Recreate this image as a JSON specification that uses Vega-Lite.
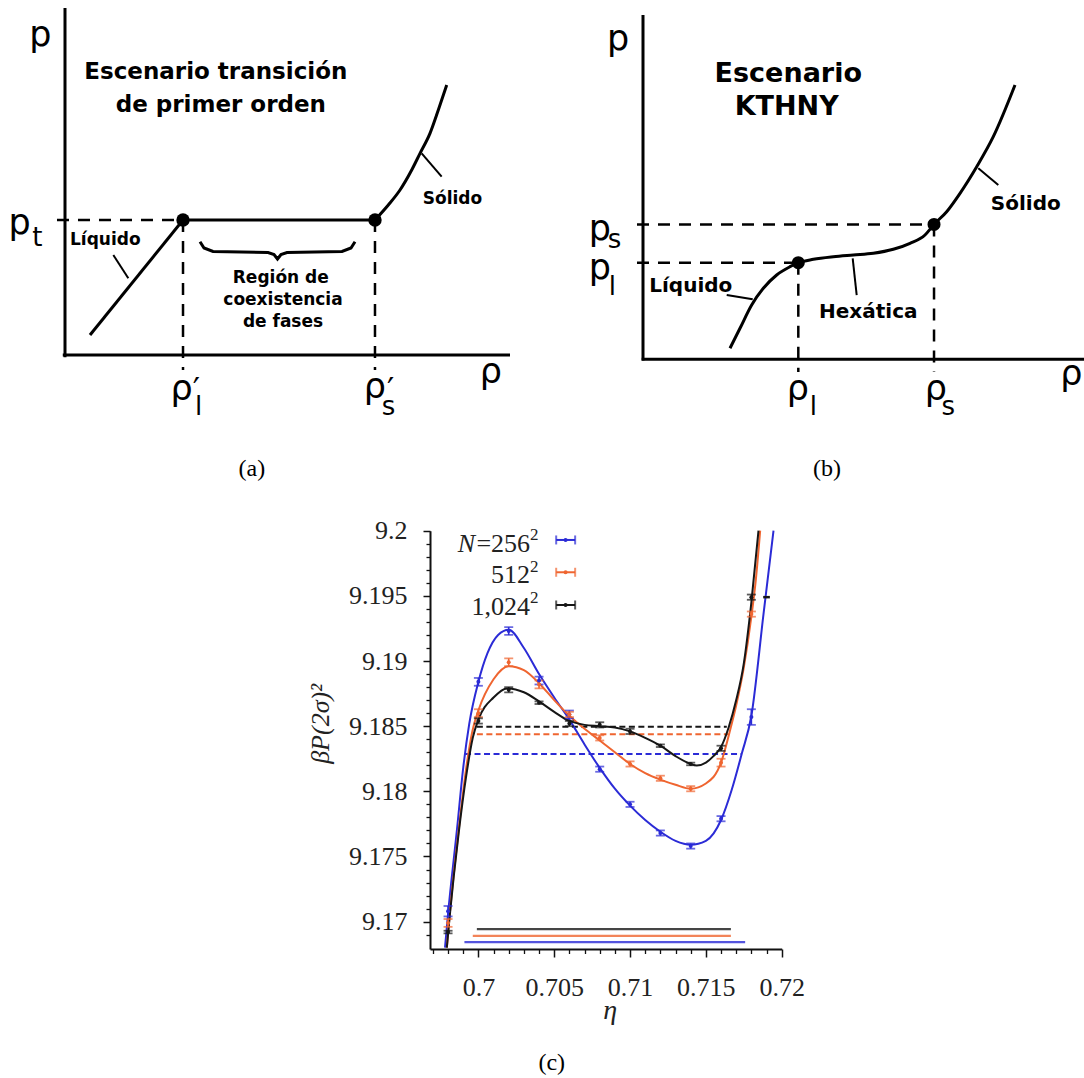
{
"$schema":"https://vega.github.io/schema/vega-lite/v6.json",
"width":1084,"height":1078,"padding":0,"autosize":{"type":"none"},
"background":"#ffffff",
"config":{"view":{"stroke":null}},
"datasets":{
"a_axes":[{"x":-0.05,"y":0,"x2":10,"y2":0},{"x":0,"y":-0.05,"x2":0,"y2":8}],
"a_dash":[{"x":-0.18,"y":3.112,"x2":2.652,"y2":3.112},{"x":2.652,"y":3.112,"x2":2.652,"y2":-0.346},{"x":6.966,"y":3.112,"x2":6.966,"y2":-0.346}],
"a_lin":[{"g":"liq","o":1,"x":0.562,"y":0.461},{"g":"liq","o":2,"x":2.652,"y":3.112},
{"g":"flat","o":1,"x":2.652,"y":3.112},{"g":"flat","o":2,"x":6.966,"y":3.112},
{"g":"brace","o":1,"x":3.034,"y":2.612},{"g":"brace","o":2,"x":3.124,"y":2.467},{"g":"brace","o":3,"x":3.326,"y":2.386},{"g":"brace","o":4,"x":4.562,"y":2.363},{"g":"brace","o":5,"x":4.697,"y":2.317},{"g":"brace","o":6,"x":4.775,"y":2.213},{"g":"brace","o":7,"x":4.854,"y":2.317},{"g":"brace","o":8,"x":4.989,"y":2.363},{"g":"brace","o":9,"x":6.225,"y":2.386},{"g":"brace","o":10,"x":6.427,"y":2.467},{"g":"brace","o":11,"x":6.517,"y":2.612}],
"a_ptr":[{"g":"p1","o":1,"x":1.086,"y":2.305},{"g":"p1","o":2,"x":1.423,"y":1.768},{"g":"p2","o":1,"x":8.464,"y":4.111},{"g":"p2","o":2,"x":8.015,"y":4.65}],
"a_sol":[{"x":6.966,"y":3.112},{"x":7.265,"y":3.458},{"x":7.528,"y":3.804},{"x":7.791,"y":4.265},{"x":7.978,"y":4.65},{"x":8.202,"y":5.111},{"x":8.389,"y":5.648},{"x":8.578,"y":6.225}],
"a_dots":[{"x":2.652,"y":3.112},{"x":6.966,"y":3.112}],
"a_bold":[{"x":0.906,"y":2.536,"t":"Líquido"},{"x":8.708,"y":3.481,"t":"Sólido"},{"x":4.849,"y":1.66,"t":"Región de"},{"x":4.899,"y":1.153,"t":"coexistencia"},{"x":4.899,"y":0.652,"t":"de fases"}],
"a_title":[{"x":3.389,"y":6.356,"t":"Escenario transición"},{"x":3.501,"y":5.609,"t":"de primer orden"}],
"a_sym":[{"x":-0.551,"y":7.135,"t":"p"},{"x":9.569,"y":-0.646,"t":"ρ"},{"x":-1.02,"y":2.797,"t":"p"},{"x":2.62,"y":-1.033,"t":"ρ"},{"x":6.964,"y":-0.994,"t":"ρ"}],
"a_sub":[{"x":-0.62,"y":2.513,"t":"t"},{"x":3.0,"y":-1.383,"t":"l"},{"x":7.27,"y":-1.383,"t":"s"}],
"a_prime":[{"x":2.95,"y":-1.03,"t":"′"},{"x":7.32,"y":-1.03,"t":"′"}],
"a_cap":[{"x":4.2,"y":-2.79,"t":"(a)"}],
"b_axes":[{"x":0,"y":-0.03,"x2":0,"y2":7.94},{"x":-0.03,"y":0,"x2":10,"y2":0}],
"b_dash":[{"x":-0.135,"y":3.11,"x2":6.54,"y2":3.11},{"x":-0.135,"y":2.227,"x2":3.49,"y2":2.227},{"x":3.49,"y":2.227,"x2":3.49,"y2":-0.293},{"x":6.54,"y":3.11,"x2":6.54,"y2":-0.293}],
"b_curve":[{"x":1.955,"y":0.254},{"x":2.18,"y":0.715},{"x":2.442,"y":1.252},{"x":2.704,"y":1.637},{"x":3.004,"y":1.944},{"x":3.303,"y":2.135},{"x":3.49,"y":2.227},{"x":3.828,"y":2.305},{"x":4.277,"y":2.365},{"x":4.726,"y":2.405},{"x":5.176,"y":2.444},{"x":5.625,"y":2.536},{"x":6.0,"y":2.674},{"x":6.337,"y":2.866},{"x":6.54,"y":3.11},{"x":6.824,"y":3.403},{"x":7.124,"y":3.827},{"x":7.499,"y":4.44},{"x":7.872,"y":5.132},{"x":8.36,"y":6.324}],
"b_ptr":[{"g":"p1","o":1,"x":1.881,"y":1.482},{"g":"p1","o":2,"x":2.465,"y":1.383},{"g":"p2","o":1,"x":4.712,"y":2.328},{"g":"p2","o":2,"x":4.802,"y":1.482},{"g":"p3","o":1,"x":7.535,"y":4.403},{"g":"p3","o":2,"x":7.984,"y":4.018}],
"b_dots":[{"x":3.49,"y":2.227},{"x":6.54,"y":3.11}],
"b_bold":[{"x":1.074,"y":1.559,"t":"Líquido"},{"x":5.063,"y":0.952,"t":"Hexática"},{"x":8.602,"y":3.442,"t":"Sólido"}],
"b_title":[{"x":3.265,"y":6.4,"t":"Escenario"},{"x":3.229,"y":5.632,"t":"KTHNY"}],
"b_sym":[{"x":-0.562,"y":7.122,"t":"p"},{"x":9.625,"y":-0.588,"t":"ρ"},{"x":-0.97,"y":2.741,"t":"p"},{"x":-0.97,"y":1.858,"t":"p"},{"x":3.48,"y":-0.934,"t":"ρ"},{"x":6.58,"y":-0.934,"t":"ρ"}],
"b_sub":[{"x":-0.64,"y":2.559,"t":"s"},{"x":-0.69,"y":1.482,"t":"l"},{"x":3.83,"y":-1.284,"t":"l"},{"x":6.86,"y":-1.284,"t":"s"}],
"b_cap":[{"x":4.135,"y":-2.69,"t":"(b)"}],
"c_pts":[
{"s":"256","x":0.698,"y":9.1708,"lo":9.1704,"hi":9.1712},
{"s":"256","x":0.7,"y":9.1884,"lo":9.1881,"hi":9.1887},
{"s":"256","x":0.702,"y":9.1923,"lo":9.192,"hi":9.1926},
{"s":"256","x":0.704,"y":9.1885,"lo":9.1882,"hi":9.1888},
{"s":"256","x":0.706,"y":9.1859,"lo":9.1856,"hi":9.1862},
{"s":"256","x":0.708,"y":9.1817,"lo":9.1815,"hi":9.1819},
{"s":"256","x":0.71,"y":9.179,"lo":9.1788,"hi":9.1792},
{"s":"256","x":0.712,"y":9.1768,"lo":9.1766,"hi":9.177},
{"s":"256","x":0.714,"y":9.1758,"lo":9.1756,"hi":9.176},
{"s":"256","x":0.716,"y":9.1779,"lo":9.1777,"hi":9.1781},
{"s":"256","x":0.718,"y":9.1857,"lo":9.1851,"hi":9.1863},
{"s":"512","x":0.698,"y":9.1699,"lo":9.1696,"hi":9.1702},
{"s":"512","x":0.7,"y":9.186,"lo":9.1857,"hi":9.1863},
{"s":"512","x":0.702,"y":9.1899,"lo":9.1896,"hi":9.1902},
{"s":"512","x":0.704,"y":9.1882,"lo":9.1879,"hi":9.1885},
{"s":"512","x":0.706,"y":9.1859,"lo":9.1857,"hi":9.1861},
{"s":"512","x":0.708,"y":9.1841,"lo":9.1839,"hi":9.1843},
{"s":"512","x":0.71,"y":9.1821,"lo":9.1819,"hi":9.1823},
{"s":"512","x":0.712,"y":9.181,"lo":9.1808,"hi":9.1812},
{"s":"512","x":0.714,"y":9.1802,"lo":9.18,"hi":9.1804},
{"s":"512","x":0.716,"y":9.1822,"lo":9.1819,"hi":9.1825},
{"s":"512","x":0.718,"y":9.1936,"lo":9.1934,"hi":9.1938},
{"s":"1024","x":0.698,"y":9.1692,"lo":9.1691,"hi":9.1693},
{"s":"1024","x":0.7,"y":9.1854,"lo":9.1852,"hi":9.1856},
{"s":"1024","x":0.702,"y":9.1878,"lo":9.1876,"hi":9.188},
{"s":"1024","x":0.704,"y":9.1868,"lo":9.1867,"hi":9.1869},
{"s":"1024","x":0.706,"y":9.1852,"lo":9.185,"hi":9.1854},
{"s":"1024","x":0.708,"y":9.1851,"lo":9.1849,"hi":9.1853},
{"s":"1024","x":0.71,"y":9.1846,"lo":9.1844,"hi":9.1848},
{"s":"1024","x":0.712,"y":9.1835,"lo":9.1834,"hi":9.1836},
{"s":"1024","x":0.714,"y":9.1821,"lo":9.182,"hi":9.1822},
{"s":"1024","x":0.716,"y":9.1833,"lo":9.1831,"hi":9.1835},
{"s":"1024","x":0.718,"y":9.1949,"lo":9.1947,"hi":9.1951}],
"c_curve":[
{"s":"256","x":0.6978,"y":9.168},{"s":"256","x":0.698,"y":9.1706},{"s":"256","x":0.6986,"y":9.1772},{"s":"256","x":0.699,"y":9.1818},{"s":"256","x":0.6994,"y":9.1852},{"s":"256","x":0.7,"y":9.1884},{"s":"256","x":0.7006,"y":9.1906},{"s":"256","x":0.7013,"y":9.192},{"s":"256","x":0.702,"y":9.1924},{"s":"256","x":0.703,"y":9.191},{"s":"256","x":0.704,"y":9.189},{"s":"256","x":0.705,"y":9.1872},{"s":"256","x":0.706,"y":9.1855},{"s":"256","x":0.707,"y":9.1836},{"s":"256","x":0.708,"y":9.1818},{"s":"256","x":0.709,"y":9.1802},{"s":"256","x":0.71,"y":9.1789},{"s":"256","x":0.711,"y":9.1778},{"s":"256","x":0.712,"y":9.1769},{"s":"256","x":0.713,"y":9.1762},{"s":"256","x":0.714,"y":9.1759},{"s":"256","x":0.715,"y":9.1762},{"s":"256","x":0.716,"y":9.1778},{"s":"256","x":0.7167,"y":9.1801},{"s":"256","x":0.71737,"y":9.1829},{"s":"256","x":0.718,"y":9.1858},{"s":"256","x":0.7188,"y":9.1936},{"s":"256","x":0.71946,"y":9.2},
{"s":"512","x":0.69792,"y":9.168},{"s":"512","x":0.6981,"y":9.1704},{"s":"512","x":0.6987,"y":9.177},{"s":"512","x":0.6992,"y":9.1818},{"s":"512","x":0.6996,"y":9.1846},{"s":"512","x":0.7,"y":9.1862},{"s":"512","x":0.701,"y":9.1886},{"s":"512","x":0.702,"y":9.1896},{"s":"512","x":0.703,"y":9.1893},{"s":"512","x":0.704,"y":9.1883},{"s":"512","x":0.705,"y":9.187},{"s":"512","x":0.706,"y":9.1858},{"s":"512","x":0.707,"y":9.1848},{"s":"512","x":0.708,"y":9.1839},{"s":"512","x":0.709,"y":9.183},{"s":"512","x":0.71,"y":9.1821},{"s":"512","x":0.711,"y":9.1814},{"s":"512","x":0.712,"y":9.1809},{"s":"512","x":0.713,"y":9.1805},{"s":"512","x":0.714,"y":9.1802},{"s":"512","x":0.715,"y":9.1806},{"s":"512","x":0.716,"y":9.1822},{"s":"512","x":0.7166,"y":9.1847},{"s":"512","x":0.717,"y":9.1866},{"s":"512","x":0.7175,"y":9.1895},{"s":"512","x":0.718,"y":9.1934},{"s":"512","x":0.7183,"y":9.1963},{"s":"512","x":0.71858,"y":9.2},
{"s":"1024","x":0.69792,"y":9.168},{"s":"1024","x":0.6981,"y":9.1703},{"s":"1024","x":0.6987,"y":9.1768},{"s":"1024","x":0.6992,"y":9.1812},{"s":"1024","x":0.69963,"y":9.1841},{"s":"1024","x":0.7,"y":9.1855},{"s":"1024","x":0.701,"y":9.1872},{"s":"1024","x":0.7019,"y":9.1879},{"s":"1024","x":0.703,"y":9.1876},{"s":"1024","x":0.704,"y":9.1869},{"s":"1024","x":0.705,"y":9.1861},{"s":"1024","x":0.706,"y":9.1854},{"s":"1024","x":0.707,"y":9.1851},{"s":"1024","x":0.708,"y":9.185},{"s":"1024","x":0.709,"y":9.1849},{"s":"1024","x":0.71,"y":9.1846},{"s":"1024","x":0.711,"y":9.1841},{"s":"1024","x":0.712,"y":9.1835},{"s":"1024","x":0.713,"y":9.1827},{"s":"1024","x":0.714,"y":9.1821},{"s":"1024","x":0.7144,"y":9.18198},{"s":"1024","x":0.715,"y":9.1822},{"s":"1024","x":0.7155,"y":9.1827},{"s":"1024","x":0.716,"y":9.1834},{"s":"1024","x":0.7165,"y":9.1849},{"s":"1024","x":0.717,"y":9.187},{"s":"1024","x":0.7175,"y":9.1898},{"s":"1024","x":0.718,"y":9.1945},{"s":"1024","x":0.71847,"y":9.2}],
"c_dash":[{"s":"1024","x":0.6999,"x2":0.71638,"y":9.18496},{"s":"512","x":0.6999,"x2":0.71649,"y":9.18438},{"s":"256","x":0.69912,"x2":0.71737,"y":9.18287}],
"c_bottom":[{"s":"1024","x":0.6999,"x2":0.71665,"y":9.16942},{"s":"512","x":0.69963,"x2":0.71665,"y":9.1689},{"s":"256","x":0.69908,"x2":0.71759,"y":9.16842}],
"c_leg":[{"s":"256","x":0.70513,"x2":0.70638,"xm":0.70575,"y":9.19929},{"s":"512","x":0.70513,"x2":0.70638,"xm":0.70575,"y":9.19681},{"s":"1024","x":0.70513,"x2":0.70638,"xm":0.70575,"y":9.1943}],
"c_extra":[{"x":0.71878,"x2":0.71922,"y":9.1949}],
"c_legtxt":[{"x":0.70341,"y":9.19839,"t":"=256"},{"x":0.70341,"y":9.19599,"t":"512"},{"x":0.70341,"y":9.19353,"t":"1,024"}],
"c_N":[{"x":0.69978,"y":9.19839,"t":"N"}],
"c_sup":[{"x":0.70341,"y":9.19929,"t":"2"},{"x":0.70341,"y":9.19685,"t":"2"},{"x":0.70341,"y":9.19443,"t":"2"}],
"c_ytitle":[{"x":0.69015,"y":9.18517,"t":"βP(2σ)²"}],
"c_eta":[{"x":0.70869,"y":9.16254,"t":"η"}],
"c_cap":[{"x":0.70484,"y":9.15862,"t":"(c)"}]
},
"layer":[
{
"encoding":{
"x":{"field":"x","type":"quantitative","scale":{"domain":[0,10],"range":[65,510],"nice":false,"zero":false},"axis":null},
"y":{"field":"y","type":"quantitative","scale":{"domain":[0,8],"range":[355,8],"nice":false,"zero":false},"axis":null}},
"layer":[
{"data":{"name":"a_axes"},"mark":{"type":"rule","strokeWidth":3,"color":"#000000"},"encoding":{"x2":{"field":"x2"},"y2":{"field":"y2"}}},
{"data":{"name":"a_dash"},"mark":{"type":"rule","strokeWidth":2.5,"color":"#000000","strokeDash":[12,9]},"encoding":{"x2":{"field":"x2"},"y2":{"field":"y2"}}},
{"data":{"name":"a_lin"},"mark":{"type":"line","strokeWidth":3,"color":"#000000"},"encoding":{"detail":{"field":"g","type":"nominal"},"order":{"field":"o","type":"quantitative"}}},
{"data":{"name":"a_ptr"},"mark":{"type":"line","strokeWidth":2,"color":"#000000"},"encoding":{"detail":{"field":"g","type":"nominal"},"order":{"field":"o","type":"quantitative"}}},
{"data":{"name":"a_sol"},"mark":{"type":"line","strokeWidth":3,"color":"#000000","interpolate":"monotone"},"encoding":{}},
{"data":{"name":"a_dots"},"mark":{"type":"point","filled":true,"size":180,"color":"#000000","opacity":1}},
{"data":{"name":"a_bold"},"mark":{"type":"text","font":"DejaVu Sans","fontWeight":"bold","fontSize":17,"align":"center","baseline":"alphabetic","color":"#000000"},"encoding":{"text":{"field":"t"}}},
{"data":{"name":"a_title"},"mark":{"type":"text","font":"DejaVu Sans","fontWeight":"bold","fontSize":23,"align":"center","baseline":"alphabetic","color":"#000000"},"encoding":{"text":{"field":"t"}}},
{"data":{"name":"a_sym"},"mark":{"type":"text","font":"DejaVu Sans","fontSize":35,"align":"center","baseline":"alphabetic","color":"#000000"},"encoding":{"text":{"field":"t"}}},
{"data":{"name":"a_sub"},"mark":{"type":"text","font":"DejaVu Sans","fontSize":26,"align":"center","baseline":"alphabetic","color":"#000000"},"encoding":{"text":{"field":"t"}}},
{"data":{"name":"a_prime"},"mark":{"type":"text","font":"DejaVu Sans","fontSize":32,"align":"center","baseline":"alphabetic","color":"#000000"},"encoding":{"text":{"field":"t"}}},
{"data":{"name":"a_cap"},"mark":{"type":"text","font":"Liberation Serif","fontSize":24,"align":"center","baseline":"alphabetic","color":"#000000"},"encoding":{"text":{"field":"t"}}}
]
},
{
"encoding":{
"x":{"field":"x","type":"quantitative","scale":{"domain":[0,10],"range":[643,1088],"nice":false,"zero":false},"axis":null},
"y":{"field":"y","type":"quantitative","scale":{"domain":[0,8],"range":[359.3,12.3],"nice":false,"zero":false},"axis":null}},
"layer":[
{"data":{"name":"b_axes"},"mark":{"type":"rule","strokeWidth":3,"color":"#000000"},"encoding":{"x2":{"field":"x2"},"y2":{"field":"y2"}}},
{"data":{"name":"b_dash"},"mark":{"type":"rule","strokeWidth":2.5,"color":"#000000","strokeDash":[12,9]},"encoding":{"x2":{"field":"x2"},"y2":{"field":"y2"}}},
{"data":{"name":"b_curve"},"mark":{"type":"line","strokeWidth":3,"color":"#000000","interpolate":"monotone"},"encoding":{}},
{"data":{"name":"b_ptr"},"mark":{"type":"line","strokeWidth":2,"color":"#000000"},"encoding":{"detail":{"field":"g","type":"nominal"},"order":{"field":"o","type":"quantitative"}}},
{"data":{"name":"b_dots"},"mark":{"type":"point","filled":true,"size":170,"color":"#000000","opacity":1}},
{"data":{"name":"b_bold"},"mark":{"type":"text","font":"DejaVu Sans","fontWeight":"bold","fontSize":20,"align":"center","baseline":"alphabetic","color":"#000000"},"encoding":{"text":{"field":"t"}}},
{"data":{"name":"b_title"},"mark":{"type":"text","font":"DejaVu Sans","fontWeight":"bold","fontSize":27,"align":"center","baseline":"alphabetic","color":"#000000"},"encoding":{"text":{"field":"t"}}},
{"data":{"name":"b_sym"},"mark":{"type":"text","font":"DejaVu Sans","fontSize":35,"align":"center","baseline":"alphabetic","color":"#000000"},"encoding":{"text":{"field":"t"}}},
{"data":{"name":"b_sub"},"mark":{"type":"text","font":"DejaVu Sans","fontSize":26,"align":"center","baseline":"alphabetic","color":"#000000"},"encoding":{"text":{"field":"t"}}},
{"data":{"name":"b_cap"},"mark":{"type":"text","font":"Liberation Serif","fontSize":24,"align":"center","baseline":"alphabetic","color":"#000000"},"encoding":{"text":{"field":"t"}}}
]
},
{
"layer":[
{
"encoding":{
"x":{"field":"x","type":"quantitative","scale":{"domain":[0.69681,0.72],"range":[430,781.7],"nice":false,"zero":false},
"axis":{"orient":"bottom","offset":-129,"values":[0.7,0.705,0.71,0.715,0.72],"format":".3~f","labelFont":"Liberation Serif","labelFontSize":26,"labelColor":"#222222","labelPadding":17,"labelFlush":false,"labelOverlap":false,"labelBound":false,"tickSize":8,"tickWidth":1.5,"tickColor":"#111111","domainColor":"#111111","domainWidth":2,"grid":false,"title":null}},
"y":{"field":"y","type":"quantitative","scale":{"domain":[9.1679,9.2],"range":[949,530.7],"nice":false,"zero":false},
"axis":{"orient":"left","offset":-430,"values":[9.17,9.175,9.18,9.185,9.19,9.195,9.2],"format":".3~f","labelFont":"Liberation Serif","labelFontSize":26,"labelColor":"#222222","labelPadding":16,"labelFlush":false,"labelOverlap":false,"labelBound":false,"tickSize":7,"tickWidth":1.5,"tickColor":"#111111","domainColor":"#111111","domainWidth":2,"grid":false,"title":null}}},
"layer":[
{"data":{"name":"c_dash"},"mark":{"type":"rule","strokeWidth":2,"strokeDash":[6,3.5]},"encoding":{"x2":{"field":"x2"},"color":{"field":"s","type":"nominal","scale":{"domain":["256","512","1024"],"range":["#2b2bd6","#ef6530","#161616"]},"legend":null}}},
{"data":{"name":"c_bottom"},"mark":{"type":"rule","strokeWidth":2.2,"opacity":0.8},"encoding":{"x2":{"field":"x2"},"color":{"field":"s","type":"nominal","scale":{"domain":["256","512","1024"],"range":["#2b2bd6","#ef6530","#161616"]},"legend":null}}},
{"data":{"name":"c_curve"},"mark":{"type":"line","strokeWidth":2,"interpolate":"monotone"},"encoding":{"color":{"field":"s","type":"nominal","scale":{"domain":["256","512","1024"],"range":["#2b2bd6","#ef6530","#161616"]},"legend":null}}},
{"data":{"name":"c_pts"},"mark":{"type":"rule","strokeWidth":1.6},"encoding":{"y":{"field":"lo","type":"quantitative","scale":{"domain":[9.1679,9.2],"range":[949,530.7],"nice":false,"zero":false}},"y2":{"field":"hi"},"color":{"field":"s","type":"nominal","scale":{"domain":["256","512","1024"],"range":["#2b2bd6","#ef6530","#161616"]},"legend":null}}},
{"data":{"name":"c_pts"},"mark":{"type":"tick","orient":"horizontal","size":9,"thickness":1.8},"encoding":{"y":{"field":"lo","type":"quantitative","scale":{"domain":[9.1679,9.2],"range":[949,530.7],"nice":false,"zero":false}},"color":{"field":"s","type":"nominal","scale":{"domain":["256","512","1024"],"range":["#2b2bd6","#ef6530","#161616"]},"legend":null}}},
{"data":{"name":"c_pts"},"mark":{"type":"tick","orient":"horizontal","size":9,"thickness":1.8},"encoding":{"y":{"field":"hi","type":"quantitative","scale":{"domain":[9.1679,9.2],"range":[949,530.7],"nice":false,"zero":false}},"color":{"field":"s","type":"nominal","scale":{"domain":["256","512","1024"],"range":["#2b2bd6","#ef6530","#161616"]},"legend":null}}},
{"data":{"name":"c_pts"},"mark":{"type":"point","filled":true,"size":16,"opacity":1},"encoding":{"color":{"field":"s","type":"nominal","scale":{"domain":["256","512","1024"],"range":["#2b2bd6","#ef6530","#161616"]},"legend":null}}},
{"data":{"name":"c_leg"},"mark":{"type":"rule","strokeWidth":2},"encoding":{"x2":{"field":"x2"},"color":{"field":"s","type":"nominal","scale":{"domain":["256","512","1024"],"range":["#2b2bd6","#ef6530","#161616"]},"legend":null}}},
{"data":{"name":"c_leg"},"mark":{"type":"tick","orient":"vertical","size":9,"thickness":2},"encoding":{"color":{"field":"s","type":"nominal","scale":{"domain":["256","512","1024"],"range":["#2b2bd6","#ef6530","#161616"]},"legend":null}}},
{"data":{"name":"c_leg"},"mark":{"type":"tick","orient":"vertical","size":9,"thickness":2},"encoding":{"x":{"field":"x2","type":"quantitative","scale":{"domain":[0.69681,0.72],"range":[430,781.7],"nice":false,"zero":false}},"color":{"field":"s","type":"nominal","scale":{"domain":["256","512","1024"],"range":["#2b2bd6","#ef6530","#161616"]},"legend":null}}},
{"data":{"name":"c_leg"},"mark":{"type":"point","filled":true,"size":16,"opacity":1},"encoding":{"x":{"field":"xm","type":"quantitative","scale":{"domain":[0.69681,0.72],"range":[430,781.7],"nice":false,"zero":false}},"color":{"field":"s","type":"nominal","scale":{"domain":["256","512","1024"],"range":["#2b2bd6","#ef6530","#161616"]},"legend":null}}},
{"data":{"name":"c_extra"},"mark":{"type":"rule","strokeWidth":2.5,"color":"#161616"},"encoding":{"x2":{"field":"x2"}}},
{"data":{"name":"c_legtxt"},"mark":{"type":"text","font":"Liberation Serif","fontSize":26,"align":"right","baseline":"alphabetic","color":"#222222"},"encoding":{"text":{"field":"t"}}},
{"data":{"name":"c_N"},"mark":{"type":"text","font":"Liberation Serif","fontStyle":"italic","fontSize":26,"align":"right","baseline":"alphabetic","color":"#222222"},"encoding":{"text":{"field":"t"}}},
{"data":{"name":"c_sup"},"mark":{"type":"text","font":"Liberation Serif","fontSize":17,"align":"left","baseline":"alphabetic","color":"#222222"},"encoding":{"text":{"field":"t"}}},
{"data":{"name":"c_ytitle"},"mark":{"type":"text","font":"Liberation Serif","fontStyle":"italic","fontSize":26,"angle":270,"align":"center","baseline":"alphabetic","color":"#222222"},"encoding":{"text":{"field":"t"}}},
{"data":{"name":"c_eta"},"mark":{"type":"text","font":"Liberation Serif","fontStyle":"italic","fontSize":28,"align":"center","baseline":"alphabetic","color":"#222222"},"encoding":{"text":{"field":"t"}}},
{"data":{"name":"c_cap"},"mark":{"type":"text","font":"Liberation Serif","fontSize":24,"align":"center","baseline":"alphabetic","color":"#000000"},"encoding":{"text":{"field":"t"}}}
]
},
{"data":{"name":"c_pts"},"mark":{"type":"point","opacity":0},
"encoding":{
"x":{"field":"x","type":"quantitative","scale":{"domain":[0.69681,0.72],"range":[430,781.7],"nice":false,"zero":false},
"axis":{"orient":"bottom","offset":-129,"values":[0.697,0.698,0.699,0.701,0.702,0.703,0.704,0.706,0.707,0.708,0.709,0.711,0.712,0.713,0.714,0.716,0.717,0.718,0.719],"labels":false,"domain":false,"tickSize":4.5,"tickWidth":1.3,"tickColor":"#111111","grid":false,"title":null}},
"y":{"field":"y","type":"quantitative","scale":{"domain":[9.1679,9.2],"range":[949,530.7],"nice":false,"zero":false},
"axis":{"orient":"left","offset":-430,"values":[9.169,9.171,9.172,9.173,9.174,9.176,9.177,9.178,9.179,9.181,9.182,9.183,9.184,9.186,9.187,9.188,9.189,9.191,9.192,9.193,9.194,9.196,9.197,9.198,9.199],"labels":false,"domain":false,"tickSize":4,"tickWidth":1.3,"tickColor":"#111111","grid":false,"title":null}}}}
],
"resolve":{"axis":{"x":"independent","y":"independent"}}
}
],
"resolve":{"scale":{"x":"independent","y":"independent"},"axis":{"x":"independent","y":"independent"}}
}
